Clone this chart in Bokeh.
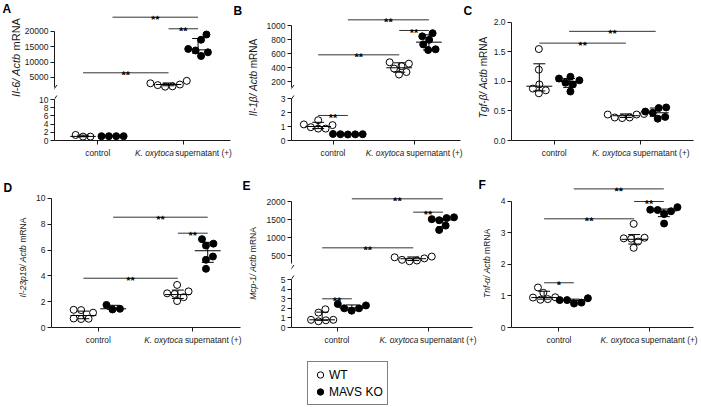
import math
from bokeh.plotting import figure
from bokeh.layouts import row, column
from bokeh.models import Range1d, FixedTicker, Label, Arrow, Legend, LegendItem
from bokeh.core.properties import value
from bokeh.embed import file_html
from bokeh.resources import INLINE

# ------------------------------------------------------------------ data
categories = ["control", "K. oxytoca supernatant (+)"]
series = ["WT", "MAVS KO"]

# A  Il-6 / Actb mRNA (broken axis)
a_wt_ctrl = [0.95, 1.35, 0.95]
a_ko_ctrl = [1.05, 1.05, 1.05, 1.05]
a_wt_kox = [2100, 2700, 3900, 3100, 2500, 2000]
a_ko_kox = [19000, 17300, 14300, 13800, 13200, 12000]
a_mid = [1.0, 1.05, 2700, 14000]
a_lo = [0.9, 1.0, 2300, 12900]
a_hi = [1.3, 1.1, 3200, 17700]
a_sig = [(0, 2, 6520, "**"), (2, 3, 20870, "**"), (1, 3, 24650, "**")]
a_ticks_upper = [5000, 10000, 15000, 20000]
a_labels_upper = ["5000", "10000", "15000", "20000"]
a_ticks_lower = [0, 2, 4, 6, 8, 10]
a_labels_lower = ["0", "2", "4", "6", "8", "10"]

# B  Il-1beta / Actb mRNA (broken axis)
b_wt_ctrl = [0.85, 1.15, 0.95, 1.45, 1.1, 0.85]
b_ko_ctrl = [0.45, 0.47, 0.45, 0.44, 0.43]
b_wt_kox = [455, 475, 420, 300, 385, 335]
b_ko_kox = [845, 890, 795, 730, 650, 660]
b_mid = [1.0, 0.45, 396, 762]
b_lo = [0.85, 0.43, 333, 650]
b_hi = [1.3, 0.47, 467, 867]
b_sig = [(0, 1, 1.79, "**"), (0, 2, 581, "**"), (2, 3, 929, "**"), (1, 3, 1081, "**")]
b_ticks_upper = [200, 400, 600, 800, 1000]
b_labels_upper = ["200", "400", "600", "800", "1000"]
b_ticks_lower = [0, 1, 2, 3]
b_labels_lower = ["0", "1", "2", "3"]

# C  Tgf-beta / Actb mRNA
c_wt_ctrl = [1.55, 1.2, 0.95, 0.88, 0.8, 0.85]
c_ko_ctrl = [1.08, 1.05, 1.02, 0.98, 0.95, 0.83]
c_wt_kox = [0.44, 0.45, 0.44, 0.39, 0.38, 0.39]
c_ko_kox = [0.55, 0.56, 0.49, 0.47, 0.40, 0.37]
c_mid = [0.92, 1.0, 0.42, 0.47]
c_lo = [0.84, 0.9, 0.39, 0.41]
c_hi = [1.3, 1.05, 0.45, 0.55]
c_sig = [(0, 2, 1.65, "**"), (1, 3, 1.85, "**")]
c_ticks = [0, 0.5, 1.0, 1.5, 2.0]
c_labels = ["0.0", "0.5", "1.0", "1.5", "2.0"]

# D  Il-23p19 / Actb mRNA
d_wt_ctrl = [1.37, 1.35, 1.15, 0.7, 0.68, 0.66]
d_ko_ctrl = [1.40, 1.75, 1.45]
d_wt_kox = [3.3, 2.65, 2.8, 2.6, 2.05, 2.35]
d_ko_kox = [6.5, 6.85, 6.35, 5.5, 5.25, 4.55]
d_mid = [0.93, 1.45, 2.55, 5.95]
d_lo = [0.68, 1.4, 2.25, 5.05]
d_hi = [1.27, 1.72, 2.9, 6.6]
d_sig = [(0, 2, 3.82, "**"), (2, 3, 7.31, "**"), (1, 3, 8.55, "**")]
d_ticks = [0, 2, 4, 6, 8, 10]
d_labels = ["0", "2", "4", "6", "8", "10"]

# E  Mcp-1 / Actb mRNA (broken axis)
e_wt_ctrl = [0.65, 1.55, 0.8, 1.9, 0.75, 0.8]
e_ko_ctrl = [2.3, 2.45, 1.75, 2.0, 2.0]
e_wt_kox = [360, 470, 380, 450, 340, 420]
e_ko_kox = [1510, 1480, 1540, 1560, 1210, 1330]
e_mid = [0.8, 2.05, 410, 1490]
e_lo = [0.75, 1.75, 360, 1300]
e_hi = [1.6, 2.35, 460, 1530]
e_sig = [(0, 1, 2.99, "**"), (0, 2, 713, "**"), (2, 3, 1704, "**"), (1, 3, 2074, "**")]
e_ticks_upper = [500, 1000, 1500, 2000]
e_labels_upper = ["500", "1000", "1500", "2000"]
e_ticks_lower = [0, 1, 2, 3, 4, 5]
e_labels_lower = ["0", "1", "2", "3", "4", "5"]

# F  Tnf-alpha / Actb mRNA
f_wt_ctrl = [1.1, 1.27, 0.95, 0.88, 0.9, 0.96]
f_ko_ctrl = [0.93, 0.76, 0.87, 0.79, 0.87]
f_wt_kox = [3.29, 2.83, 2.85, 2.82, 2.73, 2.53]
f_ko_kox = [3.73, 3.69, 3.82, 3.74, 3.6, 3.3]
f_mid = [0.95, 0.86, 2.8, 3.7]
f_lo = [0.9, 0.8, 2.65, 3.52]
f_hi = [1.15, 0.9, 2.95, 3.76]
f_sig = [(0, 1, 1.42, "*"), (0, 2, 3.45, "**"), (2, 3, 4.0, "**"), (1, 3, 4.40, "**")]
f_ticks = [0, 1, 2, 3, 4]
f_labels = ["0", "1", "2", "3", "4"]

# ------------------------------------------------------------------ style
FONT = "Liberation Sans"
INK = "#1a1a1a"
TICK_FS = "8.5px"
XLAB_FS = 8.3
SHIFT_PX = 15
MED_PX = 13
CAP_PX = 6
MARK = 7
XLAB_H = 15

AW = {'I': .278, 'l': .222, '-': .333, '/': .278, ' ': .278, 'A': .667, 'c': .5, 't': .278,
      'b': .556, 'm': .833, 'R': .722, 'N': .722, 'β': .576, 'α': .578, 'T': .611, 'g': .556,
      'f': .278, 'p': .556, 'M': .833, 'n': .556, 'K': .667, '.': .278, 'o': .556, 'x': .5,
      'y': .5, 'a': .556, 's': .5, 'u': .556, 'e': .556, 'r': .333, '(': .333, ')': .333,
      '+': .584}


def tw(s, fs):
    return sum(AW.get(ch, .556) for ch in s) * fs


def key(t):
    return int(t) if float(t).is_integer() else t


def swarm(vals, pxy, d=7.5, step=0.5):
    order = sorted(range(len(vals)), key=lambda i: vals[i])
    placed, offs = [], [0.0] * len(vals)
    for i in order:
        y = vals[i] * pxy
        k = 0
        while True:
            cands = [0.0] if k == 0 else [k * step, -k * step]
            ok = None
            for c in cands:
                if all((c - px) ** 2 + (y - py) ** 2 >= d * d for px, py in placed):
                    ok = c
                    break
            if ok is not None:
                break
            k += 1
        placed.append((ok, y))
        offs[i] = ok
    m = (max(offs) + min(offs)) / 2
    return [o - m for o in offs]


def style_axis(ax):
    ax.axis_line_color = INK
    ax.axis_line_width = 1
    ax.major_tick_line_color = INK
    ax.minor_tick_line_color = None
    ax.major_tick_out = 4
    ax.major_tick_in = 0
    ax.major_label_text_font = FONT
    ax.major_label_text_font_size = TICK_FS
    ax.major_label_text_color = INK


ROW_TOP = [0, 160]
ROW_H = [160, 187]

# xr = extent of the x axis line; rb = empty px to the right of it (kept inside the frame)
panels = [
    dict(letter="A", row=0, data=[a_wt_ctrl, a_ko_ctrl, a_wt_kox, a_ko_kox], mid=a_mid, lo=a_lo, hi=a_hi,
         sig=a_sig, ylab=("Il-6/ Actb", "mRNA"), lab_fs=11, lab_cx=15, lab_cy=57, let_x=2, let_top=3,
         strip_w=21, fig_w=212, lb=30, rb=3, xr=(-0.506, 1.552),
         parts=[dict(h=92, tb=10, bb=0, yr=(100, 26835), ticks=a_ticks_upper, labels=a_labels_upper,
                     bounds=(1700, 20000), groups=[2, 3], brk="upper"),
                dict(h=53, tb=0, bb=5, yr=(0, 11.71), ticks=a_ticks_lower, labels=a_labels_lower,
                     bounds=(0, 10), groups=[0, 1], brk="lower")]),
    dict(letter="B", row=0, data=[b_wt_ctrl, b_ko_ctrl, b_wt_kox, b_ko_kox], mid=b_mid, lo=b_lo, hi=b_hi,
         sig=b_sig, ylab=("Il-1β/ Actb", "mRNA"), lab_fs=10, lab_cx=20, lab_cy=77, let_x=0, let_top=5,
         strip_w=30, fig_w=200, lb=26, rb=3, xr=(-0.512, 1.573),
         parts=[dict(h=92, tb=10, bb=0, yr=(42.9, 1214.3), ticks=b_ticks_upper, labels=b_labels_upper,
                     bounds=(114, 1000), groups=[2, 3], brk="upper"),
                dict(h=53, tb=0, bb=5, yr=(0, 3.43), ticks=b_ticks_lower, labels=b_labels_lower,
                     bounds=(0, 3), groups=[0, 1], brk="lower")]),
    dict(letter="C", row=0, data=[c_wt_ctrl, c_ko_ctrl, c_wt_kox, c_ko_kox], mid=c_mid, lo=c_lo, hi=c_hi,
         sig=c_sig, ylab=("Tgf-β/ Actb", "mRNA"), lab_fs=10, lab_cx=20, lab_cy=77, let_x=0, let_top=5,
         strip_w=27, fig_w=210, lb=20, rb=7, xr=(-0.494, 1.609),
         parts=[dict(h=145, tb=10, bb=5, yr=(0, 2.203), ticks=c_ticks, labels=c_labels,
                     bounds=(0, 2), groups=[0, 1, 2, 3], brk=None)]),
    dict(letter="D", row=1, data=[d_wt_ctrl, d_ko_ctrl, d_wt_kox, d_ko_kox], mid=d_mid, lo=d_lo, hi=d_hi,
         sig=d_sig, ylab=("Il-23p19/ Actb", "mRNA"), lab_fs=8.5, lab_cx=22, lab_cy=257, let_x=3, let_top=182,
         strip_w=33, fig_w=209, lb=17, rb=2, xr=(-0.495, 1.505),
         parts=[dict(h=172, tb=18, bb=5, yr=(0, 11.55), ticks=d_ticks, labels=d_labels,
                     bounds=(0, 10), groups=[0, 1, 2, 3], brk=None)]),
    dict(letter="E", row=1, data=[e_wt_ctrl, e_ko_ctrl, e_wt_kox, e_ko_kox], mid=e_mid, lo=e_lo, hi=e_hi,
         sig=e_sig, ylab=("Mcp-1/ Actb", "mRNA"), lab_fs=8.5, lab_cx=10, lab_cy=263, let_x=0, let_top=180,
         strip_w=21, fig_w=215, lb=26, rb=6, xr=(-0.5, 1.489),
         parts=[dict(h=112, tb=18, bb=0, yr=(27.8, 2639), ticks=e_ticks_upper, labels=e_labels_upper,
                     bounds=(280, 2000), groups=[2, 3], brk="upper"),
                dict(h=60, tb=0, bb=5, yr=(0, 5.73), ticks=e_ticks_lower, labels=e_labels_lower,
                     bounds=(0, 5), groups=[0, 1], brk="lower")]),
    dict(letter="F", row=1, data=[f_wt_ctrl, f_ko_ctrl, f_wt_kox, f_ko_kox], mid=f_mid, lo=f_lo, hi=f_hi,
         sig=f_sig, ylab=("Tnf-α/ Actb", "mRNA"), lab_fs=8.5, lab_cx=8, lab_cy=263, let_x=0, let_top=179,
         strip_w=19, fig_w=203, lb=12, rb=7, xr=(-0.527, 1.495),
         parts=[dict(h=172, tb=18, bb=5, yr=(0, 4.73), ticks=f_ticks, labels=f_labels,
                     bounds=(0, 4), groups=[0, 1, 2, 3], brk=None)]),
]


def blank(w, h, xr=None, yr=None, lb=0):
    xr = xr if xr is not None else (0, w)
    yr = yr if yr is not None else (0, h)
    s = figure(width=w, height=h, x_range=Range1d(*xr), y_range=Range1d(*yr), min_border=0,
               min_border_left=lb, x_axis_location=None, y_axis_location=None,
               toolbar_location=None, output_backend="svg", outline_line_color=None, title=None)
    s.grid.visible = False
    return s


def txt(**kw):
    base = dict(text_font=FONT, text_color=INK)
    base.update(kw)
    return Label(**base)


def render_panel(P):
    H = ROW_H[P["row"]]
    top = ROW_TOP[P["row"]]
    strip = blank(P["strip_w"], H)
    strip.add_layout(txt(x=P["let_x"], y=H - (P["let_top"] - top - 1.5), text=P["letter"],
                         text_font_size="12px", text_font_style="bold", text_baseline="top",
                         text_align="left", text_color="black"))
    it, pl = P["ylab"]
    fs = P["lab_fs"]
    w_it, w_sp, w_pl = tw(it, fs), tw(" ", fs), tw(pl, fs)
    total = w_it + w_sp + w_pl
    yc = H - (P["lab_cy"] - top)
    y0 = yc - total / 2
    strip.add_layout(txt(x=P["lab_cx"], y=y0 + w_it / 2, text=it, angle=math.pi / 2,
                         text_align="center", text_baseline="middle", text_font_style="italic",
                         text_font_size=f"{fs}px"))
    strip.add_layout(txt(x=P["lab_cx"], y=y0 + w_it + w_sp + w_pl / 2, text=pl, angle=math.pi / 2,
                         text_align="center", text_baseline="middle", text_font_size=f"{fs}px"))

    xr = P["xr"]
    parts = P["parts"]
    fw = P["fig_w"] - P["lb"] - P["rb"]
    pxx = fw / (xr[1] - xr[0])
    xr_frame = (xr[0], xr[1] + P["rb"] / pxx)
    figs = []
    sig_part = {}
    for s in P["sig"]:
        for k in range(len(parts) - 1, -1, -1):
            if parts[k]["yr"][0] <= s[2] <= parts[k]["yr"][1]:
                sig_part.setdefault(k, []).append(s)
                break

    def gx(g):
        return g // 2 + (-1 if g % 2 == 0 else 1) * SHIFT_PX / pxx

    for k, part in enumerate(parts):
        has_x = (k == len(parts) - 1)
        yr = part["yr"]
        fh = part["h"] - part["tb"] - part["bb"]
        pxy = fh / (yr[1] - yr[0])
        p = figure(width=P["fig_w"], height=part["h"], x_range=Range1d(*xr_frame), y_range=Range1d(*yr),
                   min_border_left=P["lb"], min_border_right=0, min_border_top=part["tb"],
                   min_border_bottom=part["bb"], x_axis_location="below" if has_x else None,
                   y_axis_location="left", toolbar_location=None, output_backend="svg",
                   outline_line_color=None, title=None)
        p.grid.visible = False
        ya = p.yaxis[0]
        ya.ticker = FixedTicker(ticks=part["ticks"])
        ya.major_label_overrides = {key(t): l for t, l in zip(part["ticks"], part["labels"])}
        ya.bounds = part["bounds"]
        style_axis(ya)
        ya.major_label_standoff = 2
        if has_x:
            xa = p.xaxis[0]
            xa.ticker = FixedTicker(ticks=[0, 1])
            xa.bounds = xr
            style_axis(xa)
            xa.major_label_overrides = {0: "", 1: ""}
            xa.major_label_text_font_size = "0px"
            xa.major_label_standoff = 0

        for g in part["groups"]:
            vals = P["data"][g]
            offs = swarm(vals, pxy)
            xs = [gx(g) + o / pxx for o in offs]
            filled = (g % 2 == 1)
            p.scatter(xs, vals, marker="circle", size=MARK,
                      fill_color="black" if filled else "white", line_color="black", line_width=1)
        for g in part["groups"]:
            c = gx(g)
            m, lo, hi = P["mid"][g], P["lo"][g], P["hi"][g]
            p.segment(x0=[c - MED_PX / pxx, c, c - CAP_PX / pxx, c - CAP_PX / pxx],
                      y0=[m, lo, lo, hi],
                      x1=[c + MED_PX / pxx, c, c + CAP_PX / pxx, c + CAP_PX / pxx],
                      y1=[m, hi, lo, hi], line_color="black", line_width=1)
        for (g1, g2, yv, t) in sig_part.get(k, []):
            x1, x2 = gx(g1), gx(g2)
            p.segment(x0=[x1], y0=[yv], x1=[x2], y1=[yv], line_color="#333333", line_width=1)
            p.add_layout(Label(x=(x1 + x2) / 2, y=yv, text=t, text_align="center",
                               text_baseline="alphabetic", y_offset=-2, angle=0.002,
                               text_font=FONT, text_font_style="bold", text_font_size="11px",
                               text_color="black", text_alpha=0.99))
        if part["brk"] is not None:
            cy = yr[0] + 4 / pxy if part["brk"] == "upper" else yr[1] - 6.5 / pxy
            p.add_layout(Arrow(start=None, end=None, x_start=xr[0] - 2.5 / pxx, y_start=cy - 3.5 / pxy,
                               x_end=xr[0] + 2.5 / pxx, y_end=cy + 3.5 / pxy,
                               line_color=INK, line_width=1))
        figs.append(p)

    # category labels under the x axis (K. oxytoca in italics)
    xl = blank(P["fig_w"], XLAB_H, xr=xr_frame, yr=(0, XLAB_H), lb=P["lb"])
    base_y = XLAB_H - 7.5
    xl.add_layout(txt(x=0, y=base_y, text=categories[0], text_align="center",
                      text_baseline="alphabetic", text_font_size=f"{XLAB_FS}px"))
    words = categories[1].split(" ")
    ita, rest = " ".join(words[:2]), " ".join(words[2:])
    wi, ws, wr = tw(ita, XLAB_FS), tw(" ", XLAB_FS), tw(rest, XLAB_FS)
    x_left = 1 - (wi + ws + wr) / 2 / pxx
    xl.add_layout(txt(x=x_left + wi / 2 / pxx, y=base_y, text=ita, text_align="center",
                      text_baseline="alphabetic", text_font_style="italic",
                      text_font_size=f"{XLAB_FS}px"))
    xl.add_layout(txt(x=x_left + (wi + ws + wr / 2) / pxx, y=base_y, text=rest, text_align="center",
                      text_baseline="alphabetic", text_font_size=f"{XLAB_FS}px"))
    figs.append(xl)
    return [strip, column(*figs)]


top_row, bot_row = [], []
for P in panels:
    (top_row if P["row"] == 0 else bot_row).extend(render_panel(P))

lg = blank(700, 59)
r_wt = lg.scatter(x=[-10], y=[-10], marker="circle", size=MARK, fill_color="white", line_color="black")
r_ko = lg.scatter(x=[-10], y=[-10], marker="circle", size=MARK, fill_color="black", line_color="black")
legend = Legend(items=[LegendItem(label=value(series[0]), renderers=[r_wt]),
                       LegendItem(label=value(series[1]), renderers=[r_ko])],
                location=(307, 1), border_line_color="black", border_line_width=1,
                background_fill_color="white", background_fill_alpha=1.0, padding=4, spacing=0,
                margin=0, glyph_width=16, glyph_height=17, label_standoff=1, label_height=17,
                label_text_font=FONT, label_text_font_size="12px", label_text_color="black")
lg.add_layout(legend)

layout = column(row(*top_row), row(*bot_row), lg)
open("out.html", "w").write(file_html(layout, INLINE))
